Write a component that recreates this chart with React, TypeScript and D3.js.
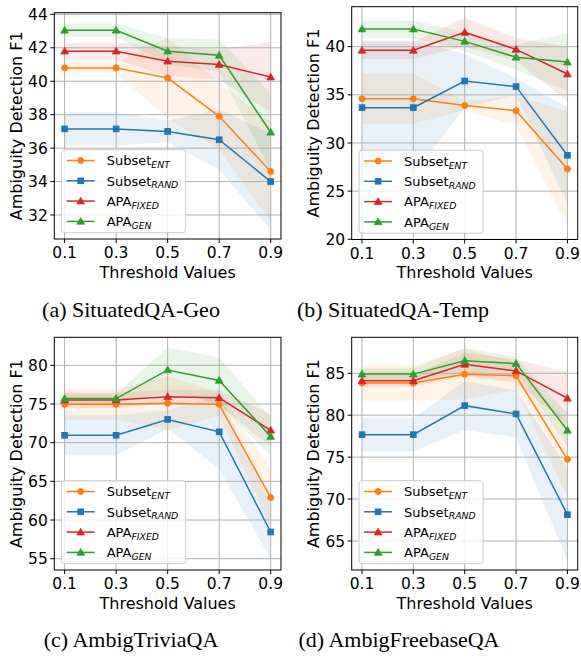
import React from "react";
import * as d3 from "d3";

const W = 581;
const H = 657;
const FONT = "'DejaVu Sans', sans-serif";

const thresholds = [0.1, 0.3, 0.5, 0.7, 0.9];

// (a) SituatedQA-Geo
const geoEnt = [40.8, 40.8, 40.2, 37.9, 34.6];
const geoEntStd = [0.3, 0.3, 2.4, 2.0, 3.0];
const geoRand = [37.15, 37.15, 37.0, 36.5, 34.0];
const geoRandStd = [1.0, 1.0, 0.65, 1.8, 2.9];
const geoFixed = [41.8, 41.8, 41.2, 41.0, 40.25];
const geoFixedStd = [0.5, 0.5, 0.9, 0.9, 2.1];
const geoGen = [43.05, 43.05, 41.8, 41.55, 36.95];
const geoGenStd = [0.4, 0.4, 0.8, 0.95, 2.3];

// (b) SituatedQA-Temp
const tempEnt = [34.6, 34.6, 33.9, 33.35, 27.3];
const tempEntStd = [2.6, 2.6, 0.5, 1.5, 6.0];
const tempRand = [33.67, 33.67, 36.43, 35.85, 28.72];
const tempRandStd = [7.0, 7.0, 2.8, 0.9, 5.0];
const tempFixed = [39.62, 39.62, 41.49, 39.72, 37.16];
const tempFixedStd = [0.9, 0.9, 1.5, 1.2, 2.8];
const tempGen = [41.83, 41.83, 40.55, 38.9, 38.4];
const tempGenStd = [0.9, 0.9, 1.0, 1.3, 3.0];

// (c) AmbigTriviaQA
const triviaEnt = [74.95, 74.95, 75.1, 74.95, 62.9];
const triviaEntStd = [2.0, 2.0, 3.5, 1.5, 3.7];
const triviaRand = [70.95, 70.95, 73.0, 71.4, 58.45];
const triviaRandStd = [2.6, 2.6, 1.2, 4.8, 3.5];
const triviaFixed = [75.5, 75.5, 75.95, 75.8, 71.6];
const triviaFixedStd = [1.0, 1.0, 0.9, 1.0, 2.1];
const triviaGen = [75.7, 75.7, 79.4, 78.05, 70.8];
const triviaGenStd = [0.6, 0.6, 2.9, 3.0, 2.5];

// (d) AmbigFreebaseQA
const freebaseEnt = [83.85, 83.85, 84.88, 84.7, 74.74];
const freebaseEntStd = [2.1, 2.1, 3.0, 1.6, 4.5];
const freebaseRand = [77.68, 77.68, 81.14, 80.15, 68.14];
const freebaseRandStd = [2.0, 2.0, 2.9, 2.8, 5.5];
const freebaseFixed = [84.1, 84.1, 86.07, 85.28, 82.02];
const freebaseFixedStd = [0.7, 0.7, 1.4, 1.4, 3.1];
const freebaseGen = [84.9, 84.9, 86.5, 86.15, 78.2];
const freebaseGenStd = [0.7, 0.7, 1.5, 0.8, 2.0];

const SERIES = [
  { name: "Subset", sub: "ENT", color: "#ff7f0e", marker: "circle" },
  { name: "Subset", sub: "RAND", color: "#1f77b4", marker: "square" },
  { name: "APA", sub: "FIXED", color: "#d62728", marker: "triangle" },
  { name: "APA", sub: "GEN", color: "#2ca02c", marker: "triangle" },
];

const PANELS = [
  {
    caption: "(a) SituatedQA-Geo",
    mean: [geoEnt, geoRand, geoFixed, geoGen],
    std: [geoEntStd, geoRandStd, geoFixedStd, geoGenStd],
    yDomain: [30.565, 44.1],
    yTicks: [32, 34, 36, 38, 40, 42, 44],
    box: { x0: 54.3, x1: 281, y0: 12.7, y1: 239 },
    yLabelX: 21.5,
    capX: 131,
    capY: 317,
  },
  {
    caption: "(b) SituatedQA-Temp",
    mean: [tempEnt, tempRand, tempFixed, tempGen],
    std: [tempEntStd, tempRandStd, tempFixedStd, tempGenStd],
    yDomain: [19.98, 44.15],
    yTicks: [20, 25, 30, 35, 40],
    box: { x0: 351.7, x1: 577.7, y0: 6.7, y1: 239.5 },
    yLabelX: 318.5,
    capX: 393,
    capY: 317,
  },
  {
    caption: "(c) AmbigTriviaQA",
    mean: [triviaEnt, triviaRand, triviaFixed, triviaGen],
    std: [triviaEntStd, triviaRandStd, triviaFixedStd, triviaGenStd],
    yDomain: [53.54, 83.62],
    yTicks: [55, 60, 65, 70, 75, 80],
    box: { x0: 54.3, x1: 281, y0: 337.3, y1: 570 },
    yLabelX: 21.5,
    capX: 131,
    capY: 647,
  },
  {
    caption: "(d) AmbigFreebaseQA",
    mean: [freebaseEnt, freebaseRand, freebaseFixed, freebaseGen],
    std: [freebaseEntStd, freebaseRandStd, freebaseFixedStd, freebaseGenStd],
    yDomain: [61.54, 89.29],
    yTicks: [65, 70, 75, 80, 85],
    box: { x0: 351.7, x1: 577.7, y0: 337.3, y1: 570 },
    yLabelX: 318.5,
    capX: 399,
    capY: 647,
  },
];

const triPath = d3.symbol(d3.symbolTriangle, 26)();

const Marker = ({ type, x, y, color }) => {
  if (type === "circle") return <circle cx={x} cy={y} r={3} fill={color} stroke={color} />;
  if (type === "square")
    return <rect x={x - 2.8} y={y - 2.8} width={5.6} height={5.6} fill={color} stroke={color} />;
  return <path d={triPath} transform={`translate(${x},${y + 0.6})`} fill={color} stroke={color} strokeWidth={0.8} />;
};

const Panel = ({ p }) => {
  const { box } = p;
  const x = d3.scaleLinear().domain([0.06, 0.94]).range([box.x0, box.x1]);
  const y = d3.scaleLinear().domain(p.yDomain).range([box.y1, box.y0]);
  const clipId = `clip-${p.caption.replace(/[^a-z]/gi, "")}`;

  const area = d3
    .area()
    .x((d) => x(d.t))
    .y0((d) => y(d.m - d.s))
    .y1((d) => y(d.m + d.s));
  const line = d3
    .line()
    .x((d) => x(d.t))
    .y((d) => y(d.m));

  const rows = p.mean.map((m, i) =>
    thresholds.map((t, j) => ({ t, m: m[j], s: p.std[i][j] }))
  );

  const lg = { x: box.x0 + 7.4, w: 124, h: 83 };
  lg.y = box.y1 - 6.3 - lg.h;
  const cx = (box.x0 + box.x1) / 2;
  const cy = (box.y0 + box.y1) / 2;

  return (
    <g fontFamily={FONT}>
      <defs>
        <clipPath id={clipId}>
          <rect x={box.x0} y={box.y0} width={box.x1 - box.x0} height={box.y1 - box.y0} />
        </clipPath>
      </defs>
      <g clipPath={`url(#${clipId})`}>
        {rows.map((r, i) => (
          <path key={i} d={area(r)} fill={SERIES[i].color} fillOpacity={0.1} stroke="none" />
        ))}
        {thresholds.map((t) => (
          <line key={t} x1={x(t)} x2={x(t)} y1={box.y0} y2={box.y1} stroke="#b0b0b0" strokeWidth={1} />
        ))}
        {p.yTicks.map((v) => (
          <line key={v} x1={box.x0} x2={box.x1} y1={y(v)} y2={y(v)} stroke="#b0b0b0" strokeWidth={1} />
        ))}
        {rows.map((r, i) => (
          <g key={i}>
            <path d={line(r)} fill="none" stroke={SERIES[i].color} strokeWidth={1.5} />
            {r.map((d, j) => (
              <Marker key={j} type={SERIES[i].marker} x={x(d.t)} y={y(d.m)} color={SERIES[i].color} />
            ))}
          </g>
        ))}
      </g>
      <rect
        x={box.x0}
        y={box.y0}
        width={box.x1 - box.x0}
        height={box.y1 - box.y0}
        fill="none"
        stroke="#000"
        strokeWidth={1}
      />
      {thresholds.map((t) => (
        <g key={t}>
          <line x1={x(t)} x2={x(t)} y1={box.y1} y2={box.y1 + 4} stroke="#000" />
          <text x={x(t)} y={box.y1 + 19} fontSize={15.5} textAnchor="middle">
            {t.toFixed(1)}
          </text>
        </g>
      ))}
      {p.yTicks.map((v) => (
        <g key={v}>
          <line x1={box.x0 - 4} x2={box.x0} y1={y(v)} y2={y(v)} stroke="#000" />
          <text x={box.x0 - 6.5} y={y(v) + 5.6} fontSize={15.5} textAnchor="end">
            {v}
          </text>
        </g>
      ))}
      <text x={cx} y={box.y1 + 38.7} fontSize={16} textAnchor="middle">
        Threshold Values
      </text>
      <text
        transform={`translate(${p.yLabelX},${cy}) rotate(-90)`}
        fontSize={16}
        textAnchor="middle"
      >
        Ambiguity Detection F1
      </text>
      <g>
        <rect
          x={lg.x}
          y={lg.y}
          width={lg.w}
          height={lg.h}
          rx={3}
          fill="#fff"
          fillOpacity={0.8}
          stroke="#cccccc"
          strokeWidth={1}
        />
        {SERIES.map((s, i) => {
          const ry = lg.y + 10.8 + i * 20.3;
          return (
            <g key={i}>
              <line x1={lg.x + 5} x2={lg.x + 33} y1={ry} y2={ry} stroke={s.color} strokeWidth={1.5} />
              <Marker type={s.marker} x={lg.x + 19} y={ry} color={s.color} />
              <text x={lg.x + 45} y={ry + 4.8} fontSize={13}>
                {s.name}
                <tspan fontSize={9.3} fontStyle="italic" dy={2.8}>
                  {s.sub}
                </tspan>
              </text>
            </g>
          );
        })}
      </g>
      <text
        x={p.capX}
        y={p.capY}
        fontSize={22}
        fontFamily="'Liberation Serif', 'Times New Roman', serif"
        textAnchor="middle"
      >
        {p.caption}
      </text>
    </g>
  );
};

export default function App() {
  return (
    <svg
      width={W}
      height={H}
      viewBox={`0 0 ${W} ${H}`}
      style={{ position: "absolute", left: 0, top: 0, background: "#fff" }}
    >
      {PANELS.map((p, i) => (
        <Panel key={i} p={p} />
      ))}
    </svg>
  );
}
